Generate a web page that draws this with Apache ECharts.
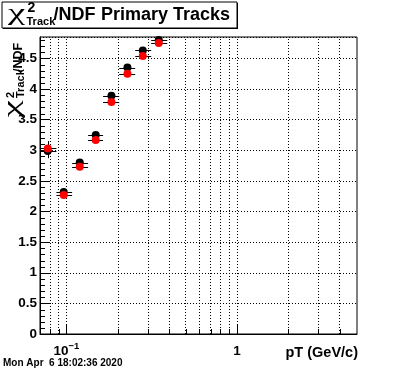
<!DOCTYPE html>
<html><head><meta charset="utf-8">
<script src="https://cdn.jsdelivr.net/npm/echarts@6/dist/echarts.min.js"></script>
<style>html,body{margin:0;padding:0;background:#fff}#c{width:396px;height:372px}</style>
</head><body><div id="c"></div>
<script>
// ---- data ----
const binCenters = [0.0777, 0.0964, 0.1197, 0.1485, 0.1836, 0.2279, 0.2803, 0.3477];
const binEdges   = [0.0703, 0.0874, 0.108, 0.134, 0.164, 0.204, 0.253, 0.314, 0.390];
const blackValues = [2.99, 2.32, 2.80, 3.25, 3.89, 4.35, 4.63, 4.80];
const redValues   = [3.03, 2.27, 2.73, 3.17, 3.79, 4.25, 4.54, 4.75];
const blackErrors = [0.12, 0.03, 0.03, 0.03, 0.03, 0.03, 0.03, 0.03];
const redErrors   = [0.12, 0.03, 0.03, 0.03, 0.03, 0.03, 0.03, 0.03];
const xRange = [0.07, 5.05];
const yRange = [0, 4.85];
const yMajorStep = 0.5;
const xGridValues = [0.08, 0.09, 0.1, 0.2, 0.3, 0.4, 0.5, 0.6, 0.7, 0.8, 0.9, 1, 2, 3, 4];
const xMinorTickValues = [0.08, 0.09, 0.2, 0.3, 0.4, 0.5, 0.6, 0.7, 0.8, 0.9, 2, 3, 4];
const yMinorTickValues = [];
for (let i = 1; i <= 48; i++) { if (i % 5 !== 0) yMinorTickValues.push(i / 10); }
const titleMain = '/NDF';
const titleRest = 'Primary Tracks';
const xAxisTitle = 'pT (GeV/c)';
const dateText = 'Mon Apr  6 18:02:36 2020';

const FONT = "'Liberation Sans', Arial, Helvetica, sans-serif";
const SERIF = "'Liberation Serif', 'Times New Roman', serif";

function errData(vals, errs) {
  return binCenters.map((x, i) => [x, vals[i], binEdges[i], binEdges[i + 1], vals[i] - errs[i], vals[i] + errs[i]]);
}
function renderErr(params, api) {
  const x = api.value(0), y = api.value(1);
  const pL = api.coord([api.value(2), y]);
  const pR = api.coord([api.value(3), y]);
  const pB = api.coord([x, api.value(4)]);
  const pT = api.coord([x, api.value(5)]);
  const yy = Math.round(pL[1]) + 0.5;
  const xx = Math.round(pB[0]) + 0.5;
  return { type: 'group', children: [
    { type: 'line', shape: { x1: pL[0], y1: yy, x2: pR[0], y2: yy }, style: { stroke: '#000', lineWidth: 1 } },
    { type: 'line', shape: { x1: xx, y1: pB[1], x2: xx, y2: pT[1] }, style: { stroke: '#000', lineWidth: 1 } }
  ]};
}
function renderXMinor(params, api) {
  const p = api.coord([api.value(0), yRange[0]]);
  const xx = Math.round(p[0]) + 0.5;
  return { type: 'line', shape: { x1: xx, y1: p[1], x2: xx, y2: p[1] - 5 }, style: { stroke: '#000', lineWidth: 1 } };
}
function renderYMinor(params, api) {
  const p = api.coord([xRange[0], api.value(1)]);
  const yy = Math.round(p[1]) + 0.5;
  return { type: 'line', shape: { x1: p[0], y1: yy, x2: p[0] + 5, y2: yy }, style: { stroke: '#000', lineWidth: 1 } };
}

// chi glyph fitted to an ink box (width w, height h) with visual center cy
const mctx = document.createElement('canvas').getContext('2d');
function chiGlyph(x, cy, w, h) {
  mctx.textBaseline = 'middle';
  mctx.font = '100px ' + SERIF;
  const m = mctx.measureText('χ');
  const inkH = (m.actualBoundingBoxAscent + m.actualBoundingBoxDescent) || 72;
  const inkW = (m.actualBoundingBoxLeft + m.actualBoundingBoxRight) || 55;
  const size = 100 * h / inkH;
  const k = size / 100;
  const sx = w / (inkW * k);
  const asc = m.actualBoundingBoxAscent * k, desc = m.actualBoundingBoxDescent * k;
  const left = m.actualBoundingBoxLeft * k;
  return {
    type: 'text', x: x + left * sx, y: cy - (desc - asc) / 2, scaleX: sx, z: 12,
    style: { text: 'χ', fontSize: size, fontFamily: SERIF, fontWeight: 'normal', fill: '#000',
      align: 'left', verticalAlign: 'middle', textAlign: 'left', textVerticalAlign: 'middle' }
  };
}
function txt(text, x, y, size, weight, align) {
  return { type: 'text', x: x, y: y, z: 12,
    style: { text: text, fontSize: size, fontFamily: FONT, fontWeight: weight || 'bold', fill: '#000',
      align: align || 'left', verticalAlign: 'middle', textAlign: align || 'left', textVerticalAlign: 'middle' } };
}
// local coordinates: origin at chi left, main baseline at y = 0
const topTitleChildren = [
  chiGlyph(0, -4.5, 17.5, 15),
  txt('2', 20, -13.5, 14),
  txt('Track', 19, 0.2, 11),
  txt(titleMain, 46, -6.5, 18)
];
const yTitleChildren = [
  chiGlyph(0, -8, 17.5, 14),
  txt('2', 20, -12.5, 11),
  txt('Track', 20, -1.8, 11),
  txt(titleMain, 46, -4.5, 12.5)
];

const chart = echarts.init(document.getElementById('c'), null, { renderer: 'canvas' });
chart.setOption({
  animation: false,
  backgroundColor: '#fff',
  grid: { left: 40, right: 39, top: 37, bottom: 38, show: true, borderColor: '#000', borderWidth: 1, backgroundColor: 'transparent' },
  xAxis: {
    type: 'log', logBase: 10, min: xRange[0], max: xRange[1],
    axisLine: { show: true, onZero: false, lineStyle: { color: '#000', width: 1 } },
    axisTick: { show: true, inside: true, length: 9, lineStyle: { color: '#000' } },
    splitLine: { show: false },
    axisLabel: {
      show: true, showMinLabel: false, showMaxLabel: false, margin: 7, color: '#000',
      formatter: function (v) {
        if (Math.abs(v - 0.1) < 1e-9) return '{b|10}{s|−1}';
        if (Math.abs(v - 1) < 1e-9) return '{b|1}';
        return '';
      },
      rich: {
        b: { fontSize: 13.5, fontWeight: 'bold', fontFamily: FONT, color: '#000', padding: [3, 0, 0, 0] },
        s: { fontSize: 9.5, fontWeight: 'bold', fontFamily: FONT, color: '#000', verticalAlign: 'top' }
      }
    }
  },
  yAxis: {
    type: 'value', min: yRange[0], max: yRange[1], interval: yMajorStep,
    axisLine: { show: true, onZero: false, lineStyle: { color: '#000', width: 1 } },
    axisTick: { show: true, inside: true, length: 9, lineStyle: { color: '#000' } },
    splitLine: { show: true, lineStyle: { color: '#000', width: 1, type: [1, 2] } },
    axisLabel: { show: true, showMaxLabel: false, margin: 3, color: '#000', fontSize: 13.5, fontWeight: 'bold', fontFamily: FONT,
      formatter: v => (Math.abs(v - Math.round(v * 2) / 2) < 1e-9 ? String(Math.round(v * 10) / 10) : '') }
  },
  series: [
    {
      type: 'scatter', data: [], z: 1, silent: true,
      markLine: {
        silent: true, symbol: ['none', 'none'], label: { show: false }, animation: false,
        lineStyle: { color: '#000', width: 1, type: [1, 2] },
        data: xGridValues.map(v => ({ xAxis: v }))
      }
    },
    { type: 'custom', renderItem: renderXMinor, data: xMinorTickValues.map(v => [v, yRange[0]]), z: 2, silent: true, clip: true },
    { type: 'custom', renderItem: renderYMinor, data: yMinorTickValues.map(v => [xRange[0], v]), z: 2, silent: true, clip: true },
    { type: 'custom', renderItem: renderErr, data: errData(blackValues, blackErrors), encode: { x: 0, y: 1 }, z: 3, clip: true, silent: true },
    { type: 'custom', renderItem: renderErr, data: errData(redValues, redErrors), encode: { x: 0, y: 1 }, z: 3, clip: true, silent: true },
    { type: 'scatter', data: binCenters.map((x, i) => [x, blackValues[i]]), symbol: 'circle', symbolSize: 8,
      itemStyle: { color: '#000', opacity: 1 }, z: 4, silent: true },
    { type: 'scatter', data: binCenters.map((x, i) => [x, redValues[i]]), symbol: 'circle', symbolSize: 8,
      itemStyle: { color: '#ff0000', opacity: 1 }, z: 5, silent: true }
  ],
  graphic: [
    { type: 'rect', shape: { x: 3, y: 3, width: 235, height: 26 }, style: { fill: '#000' }, z: 10 },
    { type: 'rect', shape: { x: 2, y: 2, width: 235, height: 26 }, style: { fill: '#fff', stroke: '#000', lineWidth: 1 }, z: 11 },
    { type: 'group', x: 7.5, y: 22, z: 12, children: topTitleChildren },
    txt(titleRest, 101, 15.5, 18),
    { type: 'group', x: 23, y: 118, rotation: Math.PI / 2, z: 12, children: yTitleChildren },
    txt(xAxisTitle, 358, 352.5, 14.5, 'bold', 'right'),
    txt(dateText, 3, 363.5, 10)
  ]
});
</script>
</body></html>
